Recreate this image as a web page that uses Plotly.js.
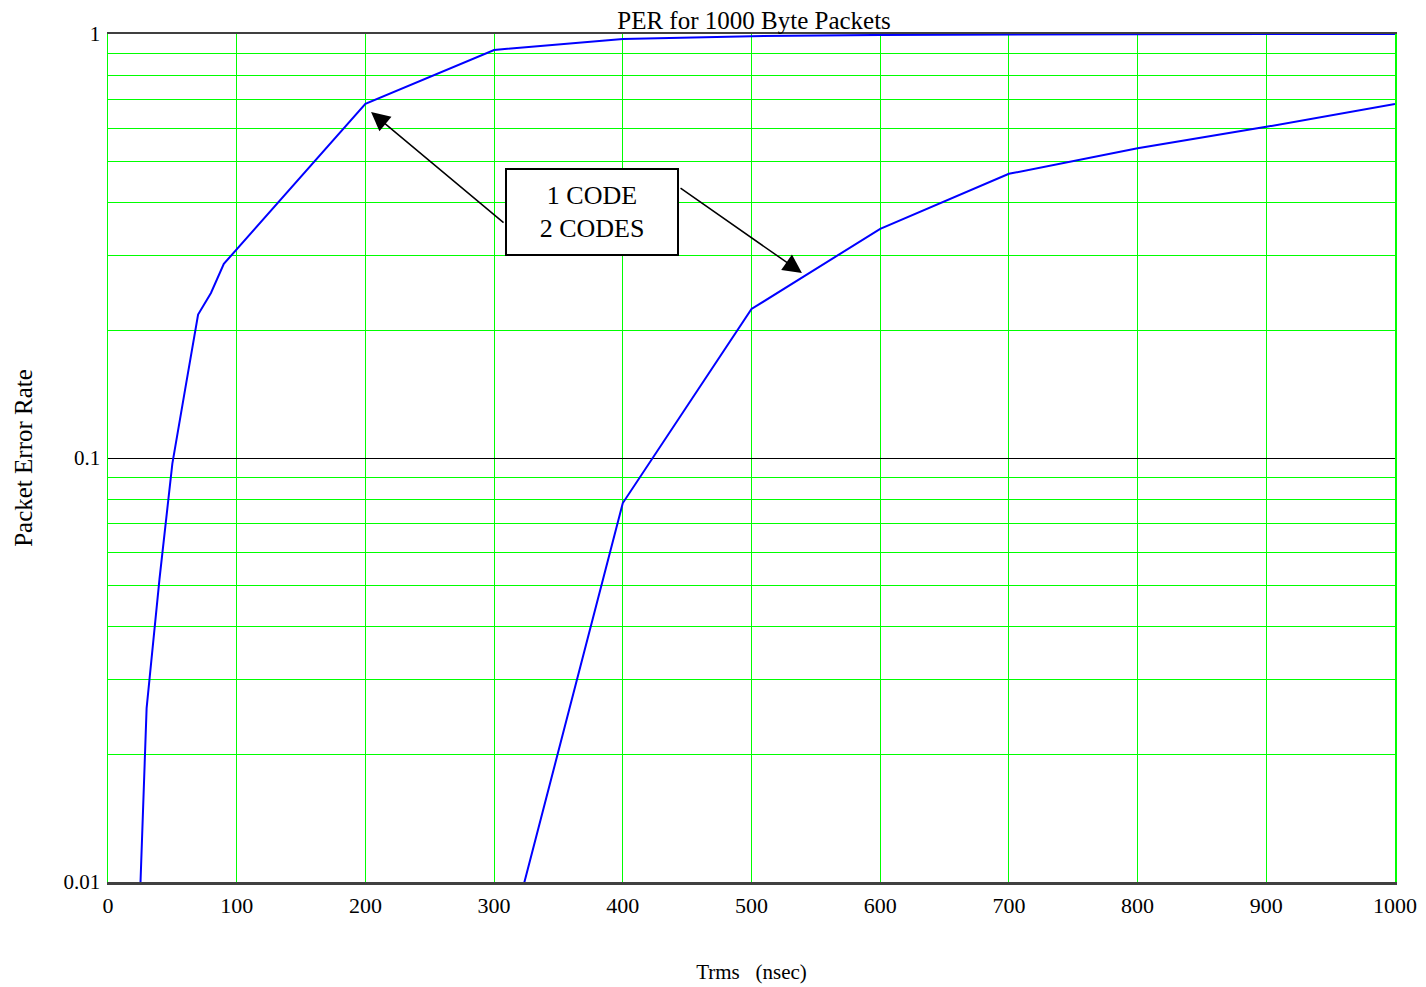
<!DOCTYPE html>
<html>
<head>
<meta charset="utf-8">
<script src="https://cdn.plot.ly/plotly-3.0.1.min.js"></script>
<style>
html,body{margin:0;padding:0;background:#fff;}
#chart{width:1426px;height:987px;}
</style>
</head>
<body>
<div id="chart"></div>
<script>
// Data
const trms1 = [20, 30, 40, 50, 60, 70, 80, 90, 200, 300, 400, 500, 600, 700, 800, 900, 1000];
const per1code = [0.0035, 0.0257, 0.0518, 0.097, 0.1455, 0.218, 0.245, 0.287, 0.684, 0.917, 0.973, 0.988, 0.995, 0.999, 0.999, 1.0, 1.0];
const trms2 = [300, 400, 500, 600, 700, 800, 900, 1000];
const per2codes = [0.0053, 0.0783, 0.2246, 0.347, 0.468, 0.538, 0.604, 0.684];

const xTickVals = [0, 100, 200, 300, 400, 500, 600, 700, 800, 900, 1000];
const yTickVals = [0.01, 0.1, 1];
const yTickText = ['0.01', '0.1', '1'];
const yMinorVals = [0.02,0.03,0.04,0.05,0.06,0.07,0.08,0.09,0.2,0.3,0.4,0.5,0.6,0.7,0.8,0.9];

const titleText = 'PER for 1000 Byte Packets';
const xTitle = 'Trms&nbsp;&nbsp;&nbsp;(nsec)';
const yTitle = 'Packet Error Rate';
const boxText = '1 CODE<br>2 CODES';

const FONT = 'Liberation Serif, Times New Roman, serif';
const GREEN = '#00ff00';

const traces = [
  {x: trms1, y: per1code, type: 'scatter', mode: 'lines', line: {color: '#0000ff', width: 2}, name: '1 CODE', hoverinfo: 'skip'},
  {x: trms2, y: per2codes, type: 'scatter', mode: 'lines', line: {color: '#0000ff', width: 2}, name: '2 CODES', hoverinfo: 'skip'}
];

const layout = {
  width: 1426, height: 987,
  margin: {l: 108, r: 31, t: 34, b: 105},
  paper_bgcolor: '#ffffff', plot_bgcolor: '#ffffff',
  showlegend: false,
  font: {family: FONT, color: '#000', size: 21},
  title: {text: titleText, font: {family: FONT, size: 25, color: '#000'}, x: 0.502, xanchor: 'center', xref: 'paper', y: 1 - 20/987, yref: 'container', yanchor: 'middle'},
  xaxis: {
    range: [0, 1000], tickvals: xTickVals, ticks: '', showgrid: true, gridcolor: GREEN, gridwidth: 1,
    zeroline: false, showline: true, mirror: true, linecolor: '#404040', linewidth: 2.5,
    tickfont: {family: FONT, size: 22}, ticklabelstandoff: 2,
    title: {text: xTitle, font: {family: FONT, size: 21}, standoff: 48}
  },
  yaxis: {
    type: 'log', range: [-2, 0], tickvals: yTickVals, ticktext: yTickText, ticks: '',
    showgrid: true, gridcolor: '#000000', gridwidth: 1,
    minor: {tickvals: yMinorVals, showgrid: true, gridcolor: GREEN, gridwidth: 1, ticks: ''},
    zeroline: false, showline: true, mirror: true, linecolor: GREEN, linewidth: 1.5,
    tickfont: {family: FONT, size: 21}, ticklabelstandoff: 2,
    title: {text: yTitle, font: {family: FONT, size: 25}, standoff: 24}
  },
  annotations: [
    {x: 376.1, y: -0.4198, xref: 'x', yref: 'y', text: boxText, showarrow: false,
     xanchor: 'center', yanchor: 'middle', width: 168, height: 82, align: 'center', valign: 'middle',
     bgcolor: '#ffffff', bordercolor: '#000000', borderwidth: 2, borderpad: 1,
     font: {family: FONT, size: 26, color: '#000'}},
    {x: 204.4, y: -0.184, xref: 'x', yref: 'y', ax: 308.5, ay: -0.448, axref: 'x', ayref: 'y',
     text: '', showarrow: true, arrowhead: 2, arrowsize: 2.5, arrowwidth: 1.5, arrowcolor: '#000'},
    {x: 539.2, y: -0.5637, xref: 'x', yref: 'y', ax: 443.7, ay: -0.361, axref: 'x', ayref: 'y',
     text: '', showarrow: true, arrowhead: 2, arrowsize: 2.5, arrowwidth: 1.5, arrowcolor: '#000'}
  ]
};

Plotly.newPlot('chart', traces, layout, {displayModeBar: false, staticPlot: true});
</script>
</body>
</html>
